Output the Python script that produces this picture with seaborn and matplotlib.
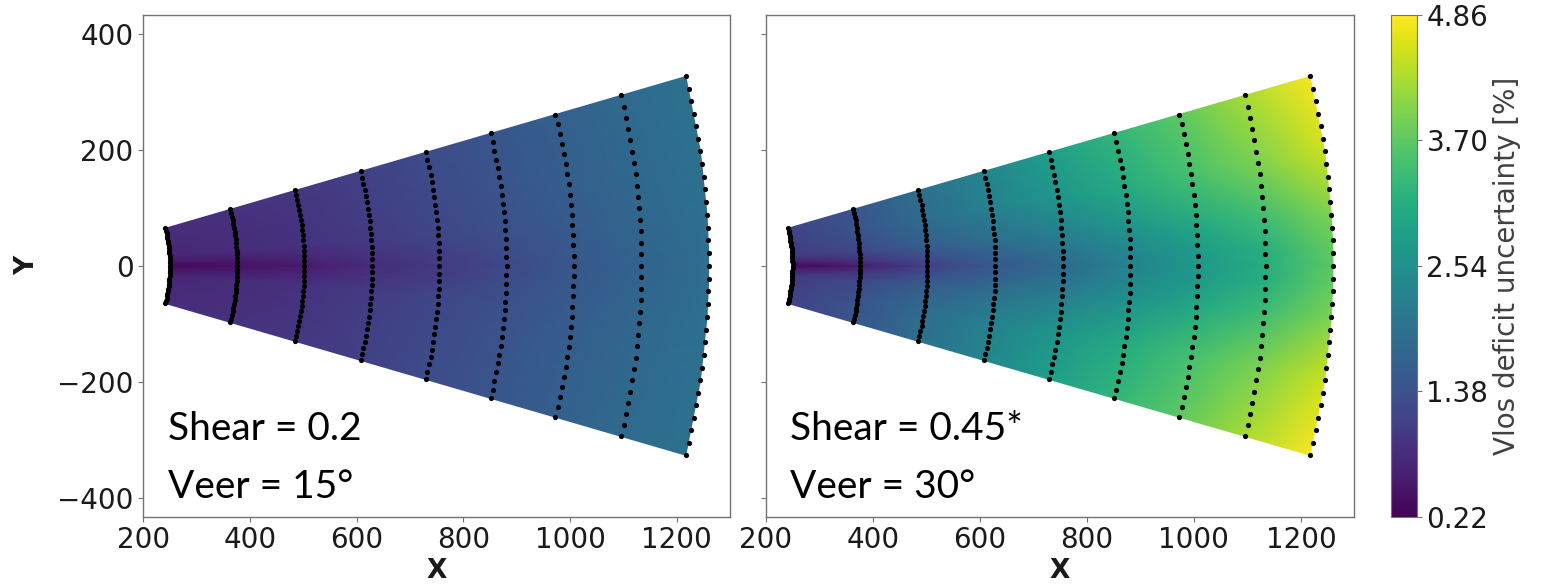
import numpy as np
import pandas as pd
import matplotlib
matplotlib.use("Agg")
import matplotlib.pyplot as plt
import seaborn as sns
from matplotlib.colors import Normalize
from matplotlib.cm import ScalarMappable

# lidar scan geometry
ranges = [250, 376, 502, 629, 755, 881, 1007, 1134, 1260]
scan_angles = list(range(-15, 16))  # deg, one dot per degree
field_angles = [-15, -9, -4, -1.5, 0, 1.5, 4, 9, 15]

# uncertainty [%]: one row per range, one column per field angle
unc_shear02 = [
    [0.80, 0.78, 0.72, 0.50, 0.32, 0.50, 0.72, 0.78, 0.80],
    [0.88, 0.85, 0.80, 0.58, 0.42, 0.58, 0.80, 0.85, 0.88],
    [0.95, 0.92, 0.88, 0.70, 0.55, 0.70, 0.88, 0.92, 0.95],
    [1.10, 1.08, 1.02, 0.88, 0.80, 0.88, 1.02, 1.08, 1.10],
    [1.28, 1.26, 1.20, 1.05, 1.00, 1.05, 1.20, 1.26, 1.28],
    [1.45, 1.43, 1.38, 1.28, 1.24, 1.28, 1.38, 1.43, 1.45],
    [1.62, 1.60, 1.56, 1.50, 1.48, 1.50, 1.56, 1.60, 1.62],
    [1.80, 1.78, 1.75, 1.72, 1.70, 1.72, 1.75, 1.78, 1.80],
    [1.96, 1.94, 1.92, 1.90, 1.89, 1.90, 1.92, 1.94, 1.96],
]
unc_shear045 = [
    [1.15, 1.10, 1.00, 0.60, 0.30, 0.60, 1.00, 1.10, 1.15],
    [1.45, 1.40, 1.25, 0.90, 0.60, 0.90, 1.25, 1.40, 1.45],
    [1.90, 1.85, 1.60, 1.30, 1.12, 1.30, 1.60, 1.85, 1.90],
    [2.35, 2.25, 1.90, 1.62, 1.50, 1.62, 1.90, 2.25, 2.35],
    [2.80, 2.65, 2.20, 1.95, 1.85, 1.95, 2.20, 2.65, 2.80],
    [3.25, 3.05, 2.60, 2.35, 2.30, 2.35, 2.60, 3.05, 3.25],
    [3.70, 3.50, 3.00, 2.75, 2.70, 2.75, 3.00, 3.50, 3.70],
    [4.25, 3.95, 3.40, 3.15, 3.10, 3.15, 3.40, 3.95, 4.25],
    [4.82, 4.50, 3.95, 3.75, 3.70, 3.75, 3.95, 4.50, 4.82],
]

cbar_ticks = [0.22, 1.38, 2.54, 3.70, 4.86]
xticks = [200, 400, 600, 800, 1000, 1200]
yticks = [-400, -200, 0, 200, 400]
notes_left = ["Shear = 0.2", "Veer = 15°"]
notes_right = ["Shear = 0.45*", "Veer = 30°"]

sns.set_style("ticks")
plt.rcParams["font.family"] = ["DejaVu Sans"]

cmap = sns.color_palette("viridis", as_cmap=True)
norm = Normalize(vmin=cbar_ticks[0], vmax=cbar_ticks[-1])

fig = plt.figure(figsize=(15.47, 5.84), dpi=100)
ax1 = fig.add_axes([0.0926, 0.1152, 0.3793, 0.8591])
ax2 = fig.add_axes([0.4950, 0.1152, 0.3805, 0.8591], sharey=ax1)
cax = fig.add_axes([0.8994, 0.1152, 0.0164, 0.8591])

R, A = np.meshgrid(ranges, np.deg2rad(field_angles), indexing="ij")
X = R * np.cos(A)
Y = R * np.sin(A)

rr, aa = np.meshgrid(ranges, np.deg2rad(scan_angles), indexing="ij")
points = pd.DataFrame({"x": (rr * np.cos(aa)).ravel(), "y": (rr * np.sin(aa)).ravel()})

for ax, field, notes in [(ax1, unc_shear02, notes_left), (ax2, unc_shear045, notes_right)]:
    ax.pcolormesh(X, Y, np.array(field), shading="gouraud", cmap=cmap, norm=norm)
    sns.scatterplot(data=points, x="x", y="y", color="black", s=14,
                    linewidth=0, ax=ax, legend=False, zorder=3)
    ax.set_xlim(200, 1300)
    ax.set_ylim(-432, 432)
    ax.set_xticks(xticks)
    ax.set_yticks(yticks)
    ax.tick_params(labelsize=20, color="0.45", labelcolor="0.1")
    for sp in ax.spines.values():
        sp.set_color("0.45")
        sp.set_linewidth(1.0)
    ax.set_xlabel("X", fontsize=19, fontweight="bold", color="0.1")
    ax.xaxis.set_label_coords(0.5, -0.082)
    ax.set_ylabel("")
    ax.text(246, -300, notes[0], fontsize=28, family="Lato", color="black", va="baseline")
    ax.text(246, -400, notes[1], fontsize=28, family="Lato", color="black", va="baseline")

ax1.set_ylabel("Y", fontsize=19, fontweight="bold", color="0.1")
ax1.yaxis.set_label_coords(-0.176, 0.5)
ax2.tick_params(labelleft=False)

cb = fig.colorbar(ScalarMappable(norm=norm, cmap=cmap), cax=cax, ticks=cbar_ticks, format="%.2f")
cb.outline.set_edgecolor("0.45")
cax.tick_params(labelsize=20, color="0.45", labelcolor="0.1")
cax.set_ylabel("Vlos deficit uncertainty [%]", fontsize=20, color="0.25", family="DejaVu Sans")
cax.yaxis.set_label_coords(4.0, 0.5)

fig.savefig("out.png", dpi=100)
